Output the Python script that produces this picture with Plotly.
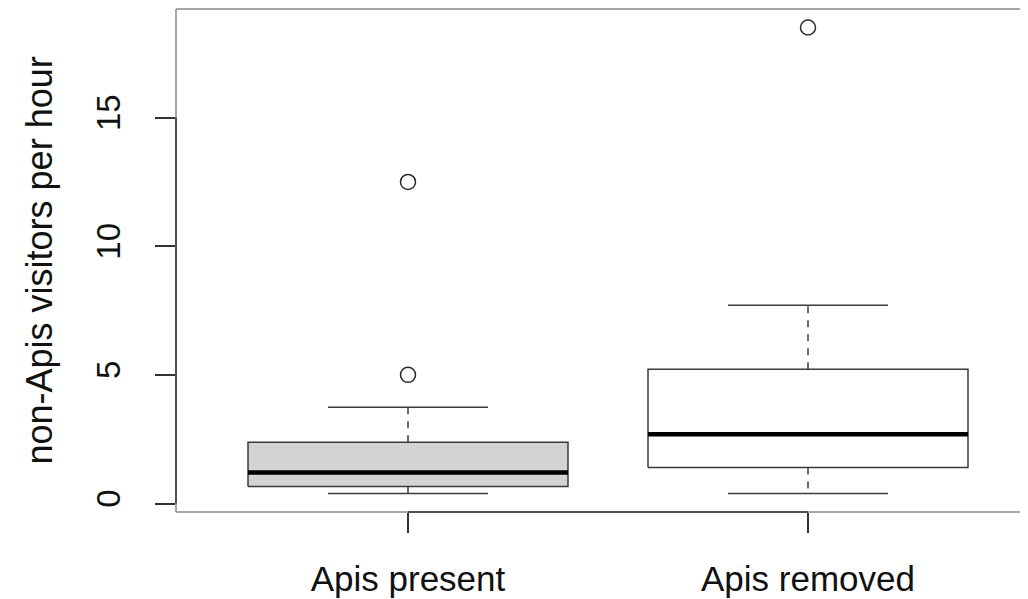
import plotly.graph_objects as go

# ---- data ----
categories = ["Apis present", "Apis removed"]
q1 = [0.66, 1.40]
median = [1.21, 2.69]
q3 = [2.38, 5.22]
lower_whisker = [0.39, 0.39]
upper_whisker = [3.74, 7.71]
outliers = [[5.0, 12.5], [18.5]]
box_fill = ["#d3d3d3", "#ffffff"]
y_ticks = [0, 5, 10, 15]
y_title = "non-Apis visitors per hour"

# ---- style ----
FONT = "Liberation Sans, Arial, Helvetica, sans-serif"
HALF_BOX = 0.4
HALF_CAP = 0.2
EDGE = "#3a3a3a"
PAGE_OFFSET = 8  # browser body margin
W, H = 1028 - PAGE_OFFSET, 599 - PAGE_OFFSET
L, T, B = 176 - PAGE_OFFSET, 9 - PAGE_OFFSET, 87

fig = go.Figure()
positions = list(range(1, len(categories) + 1))

for i, c in enumerate(positions):
    fig.add_trace(go.Scatter(
        x=[c, c, None, c, c],
        y=[q3[i], upper_whisker[i], None, q1[i], lower_whisker[i]],
        mode="lines", line=dict(color=EDGE, width=1.5, dash="7px,7px"),
        hoverinfo="skip", showlegend=False))
    fig.add_trace(go.Scatter(
        x=[c - HALF_CAP, c + HALF_CAP, None, c - HALF_CAP, c + HALF_CAP],
        y=[upper_whisker[i], upper_whisker[i], None, lower_whisker[i], lower_whisker[i]],
        mode="lines", line=dict(color=EDGE, width=1.5),
        hoverinfo="skip", showlegend=False))
    fig.add_trace(go.Scatter(
        x=[c - HALF_BOX, c + HALF_BOX, c + HALF_BOX, c - HALF_BOX, c - HALF_BOX],
        y=[q1[i], q1[i], q3[i], q3[i], q1[i]],
        mode="lines", fill="toself", fillcolor=box_fill[i],
        line=dict(color=EDGE, width=1.5),
        hoverinfo="skip", showlegend=False))
    fig.add_trace(go.Scatter(
        x=[c - HALF_BOX, c + HALF_BOX], y=[median[i], median[i]],
        mode="lines", line=dict(color="black", width=4.5),
        hoverinfo="skip", showlegend=False))
    fig.add_trace(go.Scatter(
        x=[c] * len(outliers[i]), y=outliers[i], mode="markers",
        marker=dict(symbol="circle-open", size=15, color="#2a2a2a",
                    line=dict(width=1.5)),
        hoverinfo="skip", showlegend=False))

FRAME = "#8a8a8a"
AXIS = "#333333"
shapes = [
    dict(type="line", xref="paper", yref="paper", x0=0, x1=1, y0=1, y1=1,
         line=dict(color=FRAME, width=1.5)),
    dict(type="line", xref="paper", yref="paper", x0=0, x1=1, y0=0, y1=0,
         line=dict(color=FRAME, width=1.5)),
    dict(type="line", xref="paper", yref="paper", x0=0, x1=0, y0=0, y1=1,
         line=dict(color=FRAME, width=1.5)),
    dict(type="line", xref="paper", yref="y", x0=0, x1=0,
         y0=min(y_ticks), y1=max(y_ticks), line=dict(color=AXIS, width=1.5)),
    dict(type="line", xref="x", yref="paper", x0=positions[0], x1=positions[-1],
         y0=0, y1=0, line=dict(color=AXIS, width=1.5)),
]

plot_w = W - L
fig.update_layout(
    width=W, height=H,
    margin=dict(l=L, r=0, t=T, b=B, pad=0, autoexpand=False),
    paper_bgcolor="white", plot_bgcolor="white",
    font=dict(family=FONT, size=35, color="#111111"),
    shapes=shapes,
    annotations=[dict(text=y_title, xref="paper", yref="paper",
                      x=(39 - PAGE_OFFSET - L) / plot_w, y=0.5, textangle=-90,
                      showarrow=False, xanchor="center", yanchor="middle",
                      font=dict(size=36))],
    xaxis=dict(range=[0.42, 2.55], tickvals=positions, ticktext=categories,
               ticks="outside", ticklen=20, tickwidth=1.5, tickcolor=AXIS,
               showgrid=False, zeroline=False, showline=False,
               ticklabelstandoff=16, tickfont=dict(size=35)),
    yaxis=dict(range=[-0.33, 19.22], tickvals=y_ticks,
               ticktext=[str(t) for t in y_ticks],
               ticks="outside", ticklen=20, tickwidth=1.5, tickcolor=AXIS,
               showgrid=False, zeroline=False, showline=False,
               tickangle=-90, ticklabelstandoff=22, tickfont=dict(size=33)),
)

fig.write_html("out.html")
